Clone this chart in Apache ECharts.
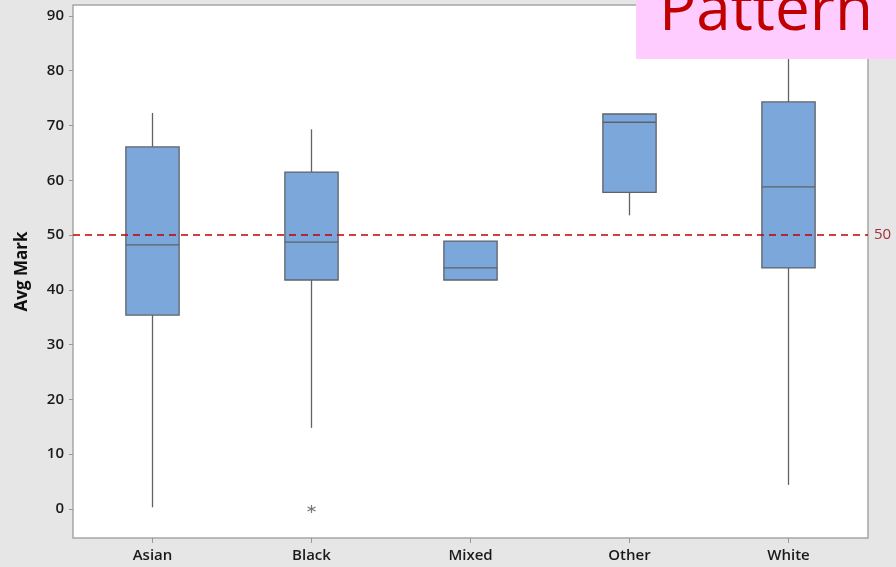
<!DOCTYPE html>
<html>
<head>
<meta charset="utf-8">
<script src="https://cdn.jsdelivr.net/npm/echarts@6/dist/echarts.min.js"></script>
<style>
html,body{margin:0;padding:0;background:#e6e6e6;}
#c{width:896px;height:567px;}
</style>
</head>
<body>
<div id="c"></div>
<script>
const categories = ['Asian', 'Black', 'Mixed', 'Other', 'White'];
const whiskerLow  = [0.3, 14.8, 41.8, 53.6, 4.4];
const q1          = [35.4, 41.8, 41.8, 57.8, 44.0];
const median      = [48.2, 48.7, 44.0, 70.6, 58.8];
const q3          = [66.1, 61.5, 48.9, 72.1, 74.3];
const whiskerHigh = [72.3, 69.3, 48.9, 72.1, 86.0];
const outliers    = [['Black', 0]];
const yTicks      = [0, 10, 20, 30, 40, 50, 60, 70, 80, 90];
const refValue    = 50;

const boxData = categories.map((c, i) => [i, whiskerLow[i], q1[i], median[i], q3[i], whiskerHigh[i]]);

const chart = echarts.init(document.getElementById('c'), null, {renderer: 'canvas'});

function renderBox(params, api) {
  const i = api.value(0);
  const lo = api.coord([i, api.value(1)]);
  const b1 = api.coord([i, api.value(2)]);
  const md = api.coord([i, api.value(3)]);
  const b3 = api.coord([i, api.value(4)]);
  const hi = api.coord([i, api.value(5)]);
  const band = api.size([1, 0])[0];
  const w = band * 0.335;
  const x0 = lo[0] - w / 2;
  const stroke = '#5f6368';
  return {
    type: 'group',
    children: [
      {type: 'line', shape: {x1: lo[0], y1: lo[1], x2: lo[0], y2: b1[1]}, style: {stroke: stroke, lineWidth: 1.3}},
      {type: 'line', shape: {x1: hi[0], y1: hi[1], x2: hi[0], y2: b3[1]}, style: {stroke: stroke, lineWidth: 1.3}},
      {type: 'rect', shape: {x: x0, y: b3[1], width: w, height: b1[1] - b3[1]}, style: {fill: '#7ba7db', stroke: stroke, lineWidth: 1.3}},
      {type: 'line', shape: {x1: x0, y1: md[1], x2: x0 + w, y2: md[1]}, style: {stroke: stroke, lineWidth: 1.3}}
    ]
  };
}

const labelFont = {color: '#1a1a1a', fontSize: 15, fontFamily: 'Open Sans', fontWeight: 600};

const option = {
  backgroundColor: '#e6e6e6',
  animation: false,
  grid: {left: 73, right: 28, top: 5, bottom: 29, show: true, backgroundColor: '#ffffff', borderColor: '#a6a6a6', borderWidth: 1.5},
  xAxis: {
    type: 'category',
    data: categories,
    axisLine: {show: false, onZero: false},
    axisTick: {show: true, alignWithLabel: true, length: 5, lineStyle: {color: '#999'}},
    axisLabel: Object.assign({margin: 10}, labelFont)
  },
  yAxis: {
    type: 'value',
    min: -5.3,
    max: 92,
    name: 'Avg Mark',
    nameLocation: 'middle',
    nameGap: 42,
    nameTextStyle: {color: '#111', fontSize: 17, fontWeight: 'bold', fontFamily: 'Open Sans'},
    splitLine: {show: false},
    axisLine: {show: false},
    axisTick: {show: true, length: 4, lineStyle: {color: '#999'}, customValues: yTicks},
    axisLabel: Object.assign({margin: 9, customValues: yTicks}, labelFont)
  },
  series: [
    {
      type: 'custom',
      renderItem: renderBox,
      encode: {x: 0, y: [1, 2, 3, 4, 5]},
      data: boxData,
      z: 3,
      markLine: {
        silent: true,
        symbol: 'none',
        lineStyle: {color: '#c00000', type: [7, 5], width: 1.5},
        label: {show: true, position: 'end', formatter: String(refValue), color: '#a0303a', fontSize: 15, fontFamily: 'Open Sans', distance: 6},
        data: [{yAxis: refValue}]
      }
    },
    {
      type: 'scatter',
      data: outliers,
      symbol: 'path://M0,-4L0,4M-3.5,-2L3.5,2M-3.5,2L3.5,-2',
      symbolSize: 8,
      itemStyle: {color: 'rgba(0,0,0,0)', borderColor: '#555', borderWidth: 1.2},
      z: 4
    }
  ],
  graphic: [
    {type: 'rect', left: 636, top: 0, shape: {width: 260, height: 59}, style: {fill: '#ffccff'}, z: 100},
    {type: 'text', left: 659, top: -19, style: {text: 'Pattern', fill: '#c00000', font: '62px "Open Sans"'}, z: 101}
  ]
};
chart.setOption(option);
</script>
</body>
</html>
